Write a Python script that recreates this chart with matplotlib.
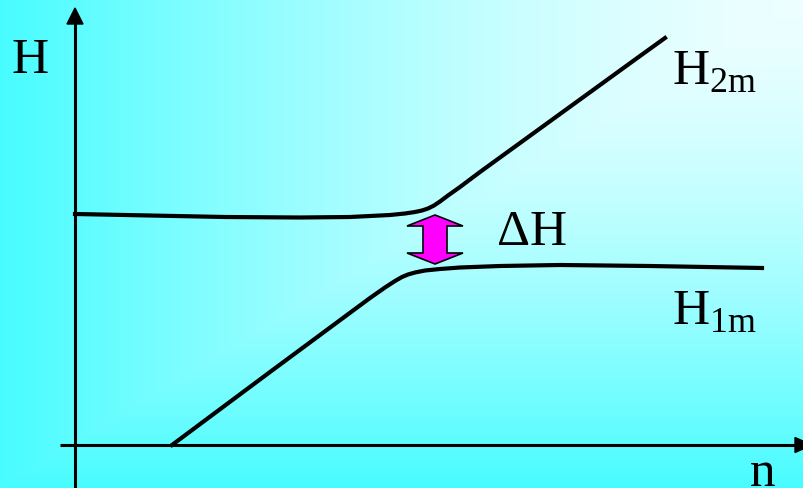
import numpy as np
import matplotlib.pyplot as plt
from matplotlib.patches import Polygon

plt.rcParams['font.family'] = ['Liberation Serif', 'DejaVu Serif']
plt.rcParams['mathtext.fontset'] = 'custom'
plt.rcParams['mathtext.rm'] = 'Liberation Serif'

# curve H2m (upper branch), n vs H
n_upper = [0, 75, 150, 225, 275, 315, 330, 340, 347, 353, 359, 365, 373, 385, 405, 445, 485, 525, 565, 590]
H_upper = [231, 229.5, 228, 227.5, 228, 230, 231.5, 233, 234.5, 236.5, 239.5, 243.5, 249.5, 258, 273, 302, 331, 360, 389, 407]

# curve H1m (lower branch)
n_lower = [97, 195, 295, 310, 320, 327, 333, 340, 350, 365, 385, 425, 485, 575, 687]
H_lower = [0, 73, 147, 157.5, 164, 168, 170.5, 172.5, 174.5, 176, 177.5, 179, 180, 179, 177]

# delta H double arrow
arrow_n = 360
arrow_top = 230
arrow_bottom = 181

labels = {
    'H': (-63, 372),
    'H$_{\\mathrm{2m}}$': (597, 360),
    'H$_{\\mathrm{1m}}$': (597, 120),
    '\u0394H': (422, 200),
    'n': (675, -41),
}

xmin, xmax = -75, 729
ymin, ymax = -43, 445

fig = plt.figure(figsize=(8.04, 4.88), dpi=100)
ax = fig.add_axes([0, 0, 1, 1])
ax.set_xlim(xmin, xmax)
ax.set_ylim(ymin, ymax)
ax.axis('off')

# background gradient, light in the upper right corner
W, Hh = 804, 488
xx, yy = np.meshgrid(np.linspace(0, 1, W), np.linspace(0, 1, Hh))
t = np.clip(np.maximum(1 - xx, yy), 0, 1) ** 1.5
light = np.array([0.93, 1.0, 1.0])
cyan = np.array([0.28, 0.99, 1.0])
img = light[None, None, :] * (1 - t[..., None]) + cyan[None, None, :] * t[..., None]
ax.imshow(img, extent=[xmin, xmax, ymin, ymax], origin='upper', aspect='auto', zorder=0)

# axes with arrows
ax.plot([-15, 722], [0, 0], color='black', lw=2.2, zorder=2, solid_capstyle='butt')
ax.plot([0, 0], [ymin, 425], color='black', lw=2.2, zorder=2, solid_capstyle='butt')
ax.add_patch(Polygon([[0, 437], [-8, 421], [8, 421]], closed=True, color='black', zorder=3))
ax.add_patch(Polygon([[737, 0], [720, 7.5], [720, -7.5]], closed=True, color='black', zorder=3))

ax.plot(n_upper, H_upper, color='black', lw=3, zorder=4, solid_joinstyle='round')
ax.plot(n_lower, H_lower, color='black', lw=3, zorder=4, solid_joinstyle='round')

# magenta double arrow
hw_shaft, hw_head, head_len = 12, 28, 11
c = arrow_n
pts = [
    [c, arrow_top],
    [c + hw_head, arrow_top - head_len],
    [c + hw_shaft, arrow_top - head_len],
    [c + hw_shaft, arrow_bottom + head_len],
    [c + hw_head, arrow_bottom + head_len],
    [c, arrow_bottom],
    [c - hw_head, arrow_bottom + head_len],
    [c - hw_shaft, arrow_bottom + head_len],
    [c - hw_shaft, arrow_top - head_len],
    [c - hw_head, arrow_top - head_len],
]
ax.add_patch(Polygon(pts, closed=True, facecolor='#ff00ff', edgecolor='black', lw=1.2, zorder=5))

for txt, (x, y) in labels.items():
    ax.text(x, y, txt, fontsize=37, va='baseline', ha='left', color='black', zorder=6)

fig.savefig('out.png', dpi=100)
